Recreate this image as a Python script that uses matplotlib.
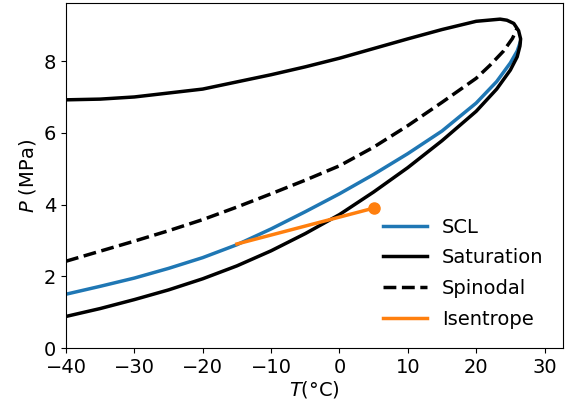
import matplotlib
matplotlib.use("Agg")
import matplotlib.pyplot as plt
import numpy as np

# Saturation curve: lower (liquid) branch then upper branch back
sat_T = [-40, -35, -30, -25, -20, -15, -10, -5, 0, 5, 10, 15, 20, 23, 25, 26, 26.4,
         26.5, 26.2, 25.5, 24.5, 23.5, 20, 15, 10, 5, 0, -5, -10, -20, -30, -35, -40]
sat_P = [0.88, 1.10, 1.35, 1.62, 1.93, 2.29, 2.71, 3.19, 3.72, 4.35, 5.03, 5.78, 6.60, 7.22, 7.75, 8.12, 8.42,
         8.62, 8.85, 9.05, 9.14, 9.17, 9.11, 8.88, 8.62, 8.35, 8.08, 7.84, 7.62, 7.22, 7.00, 6.94, 6.92]

scl_T = [-40, -35, -30, -25, -20, -15, -10, -5, 0, 5, 10, 15, 20, 23, 25, 26, 26.4]
scl_P = [1.50, 1.72, 1.95, 2.22, 2.52, 2.88, 3.32, 3.80, 4.30, 4.84, 5.42, 6.05, 6.83, 7.43, 7.95, 8.28, 8.50]

spin_T = [-40, -35, -30, -25, -20, -15, -10, -5, 0, 5, 10, 15, 20, 22, 24, 25.3, 26.0]
spin_P = [2.42, 2.70, 2.98, 3.27, 3.58, 3.93, 4.30, 4.68, 5.08, 5.60, 6.20, 6.85, 7.52, 7.88, 8.28, 8.63, 8.92]

isen_T = [-15, 5]
isen_P = [2.90, 3.90]

fig = plt.figure(figsize=(5.69, 4.05), dpi=100)
ax = fig.add_axes([66/569, (405-348)/405, (563-66)/569, (348-3)/405])

fs = 14
ax.plot(scl_T, scl_P, color="#1f77b4", lw=2.5, label="SCL")
ax.plot(sat_T, sat_P, color="black", lw=2.5, label="Saturation")
ax.plot(spin_T, spin_P, color="black", lw=2.5, ls="--", label="Spinodal")
ax.plot(isen_T, isen_P, color="#ff7f0e", lw=2.5, label="Isentrope")
ax.plot(isen_T[-1:], isen_P[-1:], "o", color="#ff7f0e", ms=8)

ax.set_xlim(-40, 32.7)
ax.set_ylim(0, 9.62)
ax.set_xticks([-40, -30, -20, -10, 0, 10, 20, 30])
ax.set_yticks([0, 2, 4, 6, 8])
ax.tick_params(labelsize=fs)
ax.set_xlabel("$T$(°C)", fontsize=fs, labelpad=2)
ax.set_ylabel("$P$ (MPa)", fontsize=fs)
ax.legend(loc="lower right", frameon=False, fontsize=fs, handlelength=2.25,
          labelspacing=0.6, borderaxespad=0.6)

fig.savefig("out.png", dpi=100)
